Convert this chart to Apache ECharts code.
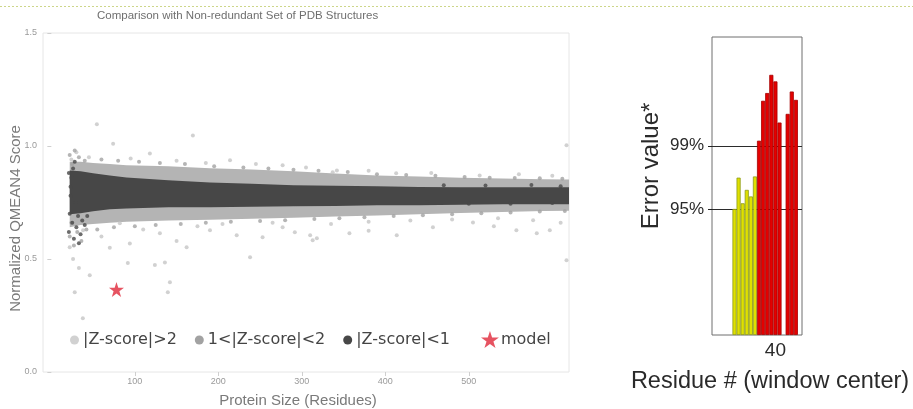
<!DOCTYPE html>
<html>
<head>
<meta charset="utf-8">
<script src="https://cdn.jsdelivr.net/npm/echarts@6/dist/echarts.min.js"></script>
<style>
  html, body { margin: 0; padding: 0; background: #ffffff; }
  #chart { width: 913px; height: 409px; }
</style>
</head>
<body>
<div id="chart"></div>
<script>
// ---- Left panel: QMEAN4 score vs protein size ----
// Residue positions at which the dense population bands are traced
const bandResidues = [22, 35, 50, 70, 90, 140, 190, 240, 290, 340, 390, 440, 490, 540, 590, 620];
// |Z-score| < 1 band (dark core)
const coreLow  = [0.698, 0.702, 0.711, 0.720, 0.724, 0.729, 0.729, 0.731, 0.733, 0.735, 0.738, 0.738, 0.740, 0.742, 0.742, 0.742];
const coreHigh = [0.892, 0.888, 0.879, 0.870, 0.861, 0.848, 0.839, 0.833, 0.826, 0.824, 0.822, 0.819, 0.817, 0.817, 0.817, 0.817];
// 1 < |Z-score| < 2 band
const midLow  = [0.640, 0.650, 0.655, 0.660, 0.665, 0.670, 0.674, 0.678, 0.683, 0.688, 0.693, 0.698, 0.703, 0.708, 0.712, 0.714];
const midHigh = [0.930, 0.930, 0.925, 0.920, 0.915, 0.910, 0.902, 0.896, 0.888, 0.878, 0.870, 0.865, 0.860, 0.856, 0.853, 0.852];

// Individual structures outside the dense bands: [residues, score]
const farPoints = [
  [54.5, 1.096], [169.5, 1.047], [617, 1.003], [74, 1.01], [30, 0.972], [118, 0.967], [214, 0.937],
  [277, 0.915], [342, 0.892], [337, 0.884], [413, 0.879], [513, 0.87], [24, 0.94], [45, 0.95],
  [95, 0.945], [150, 0.935], [185, 0.925], [245, 0.92], [305, 0.905], [380, 0.89], [455, 0.88],
  [560, 0.875], [600, 0.868],
  [91.6, 0.482], [124, 0.473], [136, 0.485], [46, 0.428], [28, 0.353], [139.5, 0.353], [142, 0.397],
  [37.7, 0.238], [318, 0.592], [413.7, 0.605], [581.4, 0.614], [617, 0.494], [291.6, 0.618],
  [38, 0.627], [82, 0.658], [94, 0.569], [130, 0.614], [162, 0.552], [190, 0.627], [222, 0.605],
  [253, 0.596], [277, 0.64], [310, 0.605], [238, 0.508], [22, 0.552], [313, 0.583], [357, 0.614],
  [457, 0.64], [505, 0.662], [557, 0.627], [597, 0.627], [577, 0.671], [60, 0.6], [110, 0.63],
  [175, 0.645], [205, 0.655], [265, 0.66], [335, 0.655], [380, 0.665], [430, 0.67], [480, 0.675],
  [535, 0.68], [610, 0.66], [26, 0.5], [33, 0.46], [70, 0.55], [150, 0.58], [380, 0.625], [530, 0.645]
];
const midPoints = [
  [22, 0.96], [25, 0.92], [28, 0.98], [33, 0.95], [40, 0.935], [60, 0.94], [80, 0.935], [105, 0.93],
  [130, 0.925], [160, 0.92], [195, 0.91], [230, 0.905], [260, 0.9], [290, 0.895], [320, 0.89],
  [355, 0.885], [390, 0.875], [425, 0.872], [460, 0.868], [495, 0.863], [525, 0.86], [555, 0.858],
  [585, 0.857], [612, 0.855],
  [22, 0.6], [24, 0.66], [27, 0.56], [31, 0.62], [36, 0.58], [42, 0.63], [55, 0.63], [75, 0.64],
  [100, 0.645], [125, 0.65], [155, 0.655], [185, 0.66], [215, 0.665], [250, 0.668], [280, 0.672],
  [315, 0.677], [345, 0.68], [375, 0.685], [410, 0.69], [445, 0.694], [480, 0.698], [515, 0.702],
  [550, 0.706], [585, 0.71], [615, 0.712]
];
const corePoints = [
  [21, 0.62], [22, 0.7], [23, 0.78], [24, 0.86], [25, 0.66], [26, 0.9], [27, 0.59], [29, 0.75],
  [30, 0.64], [32, 0.69], [35, 0.61], [37, 0.67], [40, 0.65], [43, 0.69], [21, 0.88], [23, 0.82],
  [28, 0.93], [33, 0.57],
  [450, 0.75], [470, 0.826], [500, 0.745], [520, 0.825], [550, 0.745], [575, 0.827], [600, 0.748], [610, 0.822]
];
const modelPoint = [[78, 0.365]];
const sizeTicks = [100, 200, 300, 400, 500];
const scoreTicks = [0, 0.5, 1.0, 1.5];

// ---- Right panel: local error profile ----
const windowResidues = ['25', '26', '27', '28', '29', '30', '31', '32', '33', '34', '35', '36', '37',
  '38', '39', '40', '41', '42', '43', '44', '45', '46'];
const errorValues = [null, null, null, null, null, 42.3, 52.8, 44.2, 48.7, 46.5, 53.2, 65.2, 78.6,
  81.2, 87.3, 85.1, 71.3, null, 74.2, 81.7, 78.9, null];
const thresholdLabels = ['95%', '99%'];
const thresholdValues = [42.3, 63.5];
const residueTickLabels = ['40'];

const STAR = 'path://M50,4 L61.2,37.6 L96.6,37.6 L68,58.6 L78.8,92.4 L50,71.6 L21.2,92.4 L32,58.6 L3.4,37.6 L38.8,37.6 Z';
const GREY_FAR = '#c6c6c6', GREY_MID = '#a2a2a2', GREY_CORE = '#474747', STAR_RED = '#e0283a';
const YELLOW = '#dfe000', YELLOW_EDGE = '#8d9a1c', RED = '#e40000', RED_EDGE = '#a30000';

function bandSeries(name, low, high, color) {
  return {
    type: 'custom',
    name: name,
    xAxisIndex: 0,
    yAxisIndex: 0,
    silent: true,
    clip: true,
    data: bandResidues.map((r, i) => [r, low[i], high[i]]),
    encode: { x: 0, y: [1, 2] },
    renderItem: function (params, api) {
      if (params.dataIndex !== 0) return;
      const top = bandResidues.map((r, i) => api.coord([r, high[i]]));
      const bottom = bandResidues.map((r, i) => api.coord([r, low[i]])).reverse();
      return {
        type: 'polygon',
        shape: { points: top.concat(bottom) },
        style: { fill: color }
      };
    }
  };
}

const chart = echarts.init(document.getElementById('chart'), null, { renderer: 'canvas' });

chart.setOption({
  animation: false,
  backgroundColor: '#ffffff',
  textStyle: { fontFamily: 'Liberation Sans' },
  title: {
    text: 'Comparison with Non-redundant Set of PDB Structures',
    left: 97,
    top: 10,
    padding: 0,
    textStyle: { fontSize: 11.5, fontWeight: 'normal', color: '#6f6f6f', fontFamily: 'Liberation Sans' }
  },
  graphic: [{
    type: 'line',
    shape: { x1: 0, y1: 6.5, x2: 913, y2: 6.5 },
    style: { stroke: '#cdd68a', lineWidth: 1, lineDash: [2, 2] },
    silent: true
  }],
  legend: [{
    left: 70,
    top: 332,
    padding: 0,
    itemGap: 18,
    itemWidth: 9,
    itemHeight: 9,
    textStyle: { fontSize: 16, color: '#444', fontFamily: 'DejaVu Sans', padding: [0, 0, 0, -1] },
    data: [
      { name: '|Z-score|>2', icon: 'circle', itemStyle: { color: GREY_FAR } },
      { name: '1<|Z-score|<2', icon: 'circle', itemStyle: { color: GREY_MID } },
      { name: '|Z-score|<1', icon: 'circle', itemStyle: { color: GREY_CORE } }
    ],
    selectedMode: false
  }, {
    left: 481,
    top: 331,
    padding: 0,
    itemWidth: 18,
    itemHeight: 17,
    textStyle: { fontSize: 16, color: '#444', fontFamily: 'DejaVu Sans', padding: [0, 0, 0, -3] },
    data: [{ name: 'model', icon: STAR, itemStyle: { color: STAR_RED } }],
    selectedMode: false
  }],
  grid: [
    { left: 43, top: 33, width: 526, height: 339, outerBoundsMode: 'none', containLabel: false,
      show: true, borderColor: '#e6e6e6', borderWidth: 1, backgroundColor: '#ffffff' },
    { left: 712, top: 37, width: 90, height: 298, outerBoundsMode: 'none', containLabel: false,
      show: true, borderColor: '#6e6e6e', borderWidth: 1 }
  ],
  xAxis: [{
    gridIndex: 0,
    type: 'value',
    min: -10,
    max: 620,
    name: 'Protein Size (Residues)',
    nameLocation: 'middle',
    nameGap: 21,
    nameTextStyle: { fontSize: 15, color: '#7a7a7a', padding: [0, 16, 0, 0] },
    axisLine: { show: false },
    axisTick: { show: true, customValues: sizeTicks, length: 4, lineStyle: { color: '#cfcfcf' } },
    axisLabel: { customValues: sizeTicks, fontSize: 9, color: '#9a9a9a', margin: 5 },
    splitLine: { show: false }
  }, {
    gridIndex: 1,
    type: 'category',
    data: windowResidues,
    boundaryGap: true,
    name: 'Residue # (window center)',
    nameLocation: 'middle',
    nameGap: 35,
    nameTextStyle: { fontSize: 23.5, color: '#2a2a2a', padding: [0, 0, 0, 26] },
    axisLine: { show: false },
    axisTick: { show: false },
    axisLabel: {
      interval: 0,
      fontSize: 19,
      color: '#2a2a2a',
      margin: 6,
      formatter: v => (residueTickLabels.indexOf(v) >= 0 ? v : '')
    },
    splitLine: { show: false }
  }],
  yAxis: [{
    gridIndex: 0,
    type: 'value',
    min: 0,
    max: 1.5,
    name: 'Normalized QMEAN4 Score',
    nameLocation: 'middle',
    nameGap: 20,
    nameMoveOverlap: false,
    nameTextStyle: { fontSize: 15, color: '#7a7a7a', padding: [0, 32, 0, 0] },
    axisLine: { show: false },
    axisTick: { show: true, customValues: scoreTicks, length: 4, lineStyle: { color: '#cfcfcf' } },
    axisLabel: { customValues: scoreTicks, fontSize: 9, color: '#9a9a9a', margin: 6, formatter: v => v.toFixed(1) },
    splitLine: { show: false }
  }, {
    gridIndex: 1,
    type: 'value',
    min: 0,
    max: 100,
    name: 'Error value*',
    nameLocation: 'middle',
    nameGap: 49,
    nameTextStyle: { fontSize: 24, color: '#2a2a2a', padding: [0, 0, 0, 40] },
    axisLine: { show: false },
    axisTick: { show: true, customValues: thresholdValues, length: 4, lineStyle: { color: '#222' } },
    axisLabel: {
      customValues: thresholdValues,
      fontSize: 17,
      color: '#2a2a2a',
      margin: 8,
      formatter: v => thresholdLabels[thresholdValues.indexOf(v)] || ''
    },
    splitLine: { show: false }
  }],
  series: [
    {
      type: 'scatter', name: '|Z-score|>2', xAxisIndex: 0, yAxisIndex: 0,
      data: farPoints, symbolSize: 4, itemStyle: { color: GREY_FAR }, silent: true
    },
    bandSeries('1<|Z-score|<2', midLow, midHigh, '#b4b4b4'),
    {
      type: 'scatter', name: '1<|Z-score|<2', xAxisIndex: 0, yAxisIndex: 0,
      data: midPoints, symbolSize: 4, itemStyle: { color: GREY_MID }, silent: true
    },
    bandSeries('|Z-score|<1', coreLow, coreHigh, GREY_CORE),
    {
      type: 'scatter', name: '|Z-score|<1', xAxisIndex: 0, yAxisIndex: 0,
      data: corePoints, symbolSize: 4, itemStyle: { color: GREY_CORE }, silent: true
    },
    {
      type: 'scatter', name: 'model', xAxisIndex: 0, yAxisIndex: 0,
      data: modelPoint, symbol: STAR, symbolSize: 15, itemStyle: { color: STAR_RED }, silent: true
    },
    {
      // threshold reference lines across the error panel, beneath the bars
      type: 'custom', name: 'thresholds', xAxisIndex: 1, yAxisIndex: 1, z: 1,
      silent: true,
      data: thresholdValues.map(v => [0, v]),
      encode: { x: 0, y: 1 },
      renderItem: function (params, api) {
        const cs = params.coordSys;
        const y = Math.round(api.coord([0, api.value(1)])[1]) + 0.5;
        return {
          type: 'line',
          shape: { x1: cs.x, y1: y, x2: cs.x + cs.width, y2: y },
          style: { stroke: '#2b2b2b', lineWidth: 1 }
        };
      }
    },
    {
      type: 'bar', name: 'error', xAxisIndex: 1, yAxisIndex: 1, z: 3,
      barCategoryGap: '0%',
      silent: true,
      data: errorValues.map(v => v == null ? null : {
        value: v,
        itemStyle: {
          color: v > thresholdValues[1] ? RED : YELLOW,
          borderColor: v > thresholdValues[1] ? RED_EDGE : YELLOW_EDGE,
          borderWidth: 0.8
        }
      })
    }
  ]
});
</script>
</body>
</html>
